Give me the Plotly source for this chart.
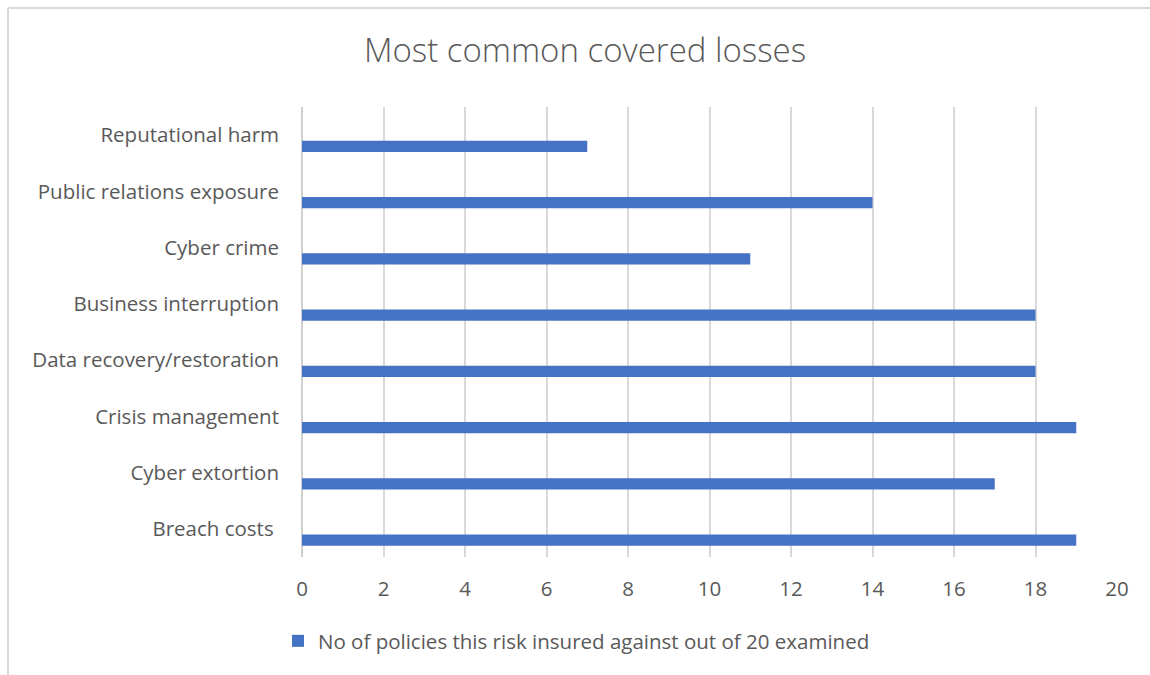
import plotly.graph_objects as go

categories = ["Breach costs\u00a0", "Cyber extortion", "Crisis management",
              "Data recovery/restoration", "Business interruption", "Cyber crime",
              "Public relations exposure", "Reputational harm"]
values = [19, 17, 19, 18, 18, 11, 14, 7]
series_name = "No of policies this risk insured against out of 20 examined"
x_ticks = [0, 2, 4, 6, 8, 10, 12, 14, 16, 18, 20]

W, H = 1150, 675
L, R, T, B = 302, 33, 107, 118
pw, ph = W - L - R, H - T - B

def px_x(p):
    return (p - L) / pw

def px_y(p):
    return (H - B - p) / ph

text_color = "#595959"
font_family = "'Open Sans', sans-serif"

fig = go.Figure()
fig.add_trace(go.Bar(
    y=categories, x=values, orientation="h", name=series_name,
    marker=dict(color="#4472C4", line=dict(width=0)),
    width=0.2, offset=-0.3, showlegend=True,
))

fig.update_layout(
    width=W, height=H,
    margin=dict(l=L, r=R, t=T, b=B),
    paper_bgcolor="white", plot_bgcolor="white",
    font=dict(family=font_family, color=text_color, size=20.5),
    title=dict(text="Most common covered losses", x=px_x(585), xref="paper", xanchor="center",
               y=1 - 50 / H, yref="container", yanchor="middle",
               font=dict(size=33, color=text_color, family=font_family, weight=300)),
    xaxis=dict(range=[0, 20], tickvals=x_ticks, showgrid=True, gridcolor="#d9d9d9", gridwidth=1.5,
               zeroline=True, zerolinecolor="#d0d0d0", zerolinewidth=1.5,
               showline=False, ticks="", ticklabelstandoff=17,
               tickfont=dict(size=20.5, color=text_color), fixedrange=True),
    yaxis=dict(type="category", categoryorder="array", categoryarray=categories,
               range=[-0.5, 7.5], showgrid=False, zeroline=False, showline=False,
               ticks="", ticklabelstandoff=22, tickfont=dict(size=20.5, color=text_color),
               fixedrange=True),
    legend=dict(orientation="h", x=px_x(278), xanchor="left", y=px_y(641), yanchor="middle",
                font=dict(size=20.5, color=text_color), itemwidth=30),
    shapes=[
        dict(type="line", xref="paper", yref="paper", x0=px_x(8), x1=px_x(1160), y0=px_y(8), y1=px_y(8),
             line=dict(color="#d9d9d9", width=2)),
        dict(type="line", xref="paper", yref="paper", x0=px_x(8), x1=px_x(8), y0=px_y(8), y1=px_y(690),
             line=dict(color="#d9d9d9", width=2)),
    ],
)

fig.write_html("out.html")
